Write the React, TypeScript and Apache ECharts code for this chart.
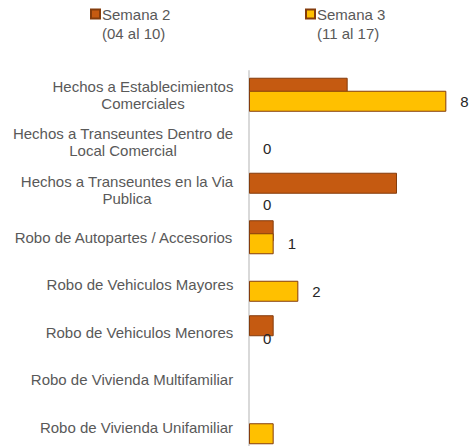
import React, { useEffect, useRef } from 'react';
import * as echarts from 'echarts';

const categories = [
  'Hechos a Establecimientos\nComerciales',
  'Hechos a Transeuntes Dentro de\nLocal Comercial',
  'Hechos a Transeuntes en la Via\nPublica',
  'Robo de Autopartes / Accesorios',
  'Robo de Vehiculos Mayores',
  'Robo de Vehiculos Menores',
  'Robo de Vivienda Multifamiliar',
  'Robo de Vivienda Unifamiliar',
];
const seriesNames = ['Semana 2', 'Semana 3'];
const seriesRanges = ['(04 al 10)', '(11 al 17)'];
const semana2 = [4, 0, 6, 1, 0, 1, null, 0];
const semana3 = [8, 0, 0, 1, 2, 0, null, 1];

const FONT = '"Liberation Sans", Arial, sans-serif';
const GRAY = '#595959';

function measure(text: string, size: number): number {
  const c = document.createElement('canvas');
  const ctx = c.getContext('2d');
  if (!ctx) return text.length * size * 0.5;
  ctx.font = `${size}px "Liberation Sans"`;
  return ctx.measureText(text).width;
}

export default function App() {
  const ref = useRef<HTMLDivElement>(null);
  useEffect(() => {
    document.body.style.margin = '0';
    document.body.style.overflow = 'hidden';
    if (!ref.current) return;
    const chart = echarts.init(ref.current, undefined, { renderer: 'svg' });

    const rich: Record<string, any> = {};
    categories.forEach((c, i) => {
      const w = Math.max(...c.split('\n').map((l) => measure(l, 15)));
      rich['c' + i] = {
        width: Math.ceil(w) + 1,
        align: 'center',
        fontSize: 15,
        fontFamily: FONT,
        color: GRAY,
        lineHeight: 17,
      };
    });

    const s2Data = semana2.map((v) =>
      v === 0 ? { value: v, itemStyle: { borderWidth: 0 } } : v
    );
    const s3Data = semana3.map((v, i) => {
      const item: any = { value: v };
      if (v === 0) item.itemStyle = { borderWidth: 0 };
      if (i === 2) item.label = { offset: [0, 8] };
      if (i === 7) item.label = { show: false };
      return item;
    });

    const legendBase = {
      top: -14.5,
      padding: 0,
      itemWidth: 9,
      itemHeight: 9,
      icon: 'rect',
      selectedMode: false,
      textStyle: {
        color: GRAY,
        fontSize: 15,
        fontFamily: FONT,
        lineHeight: 19,
        padding: [0, 0, 0, -3],
      },
    };

    chart.setOption({
      animation: false,
      legend: [
        {
          ...legendBase,
          left: 90,
          data: [seriesNames[0]],
          formatter: (n: string) => '\n' + n + '\n' + seriesRanges[0],
        },
        {
          ...legendBase,
          left: 305,
          data: [seriesNames[1]],
          formatter: (n: string) => '\n' + n + '\n' + seriesRanges[1],
        },
      ],
      grid: { left: 249, right: 4, top: 71, bottom: 0 },
      xAxis: {
        type: 'value',
        min: 0,
        max: 9,
        show: false,
        splitLine: { show: false },
      },
      yAxis: {
        type: 'category',
        data: categories,
        inverse: true,
        axisLine: { show: true, lineStyle: { color: '#d9d9d9', width: 2 } },
        axisTick: { show: false },
        axisLabel: {
          margin: 15,
          color: GRAY,
          fontSize: 15,
          fontFamily: FONT,
          lineHeight: 17,
          formatter: (value: string, index: number) =>
            value
              .split('\n')
              .map((l) => `{c${index}|${l}}`)
              .join('\n'),
          rich,
        },
      },
      series: [
        {
          name: seriesNames[0],
          type: 'bar',
          data: s2Data,
          barWidth: 21,
          barGap: '-38%',
          itemStyle: { color: '#C55A11', borderColor: '#843C0C', borderWidth: 1 },
          label: { show: false },
        },
        {
          name: seriesNames[1],
          type: 'bar',
          data: s3Data,
          barWidth: 21,
          barGap: '-38%',
          itemStyle: { color: '#FFC000', borderColor: '#843C0C', borderWidth: 1 },
          label: {
            show: true,
            position: 'right',
            distance: 14,
            color: '#262626',
            fontSize: 15,
            fontFamily: FONT,
          },
        },
      ],
    });
    return () => chart.dispose();
  }, []);
  return <div ref={ref} style={{ width: 475, height: 451 }} />;
}
